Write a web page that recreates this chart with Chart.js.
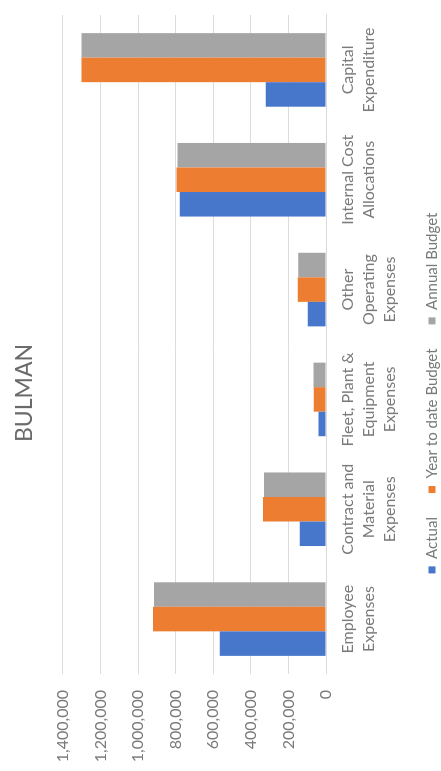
<!DOCTYPE html>
<html>
<head>
<meta charset="utf-8">
<script src="https://cdn.jsdelivr.net/npm/chart.js@4/dist/chart.umd.min.js"></script>
<style>
  html, body { margin: 0; padding: 0; background: #ffffff; overflow: hidden; }
  body { width: 441px; height: 771px; position: relative; }
  /* the chart is laid out landscape and turned a quarter turn counter-clockwise */
  #wrap {
    position: absolute; left: 0; top: 0;
    width: 771px; height: 441px;
    transform-origin: 0 0;
    transform: translateY(771px) rotate(-90deg);
    background: #ffffff;
  }
  canvas { display: block; }
</style>
</head>
<body>
<div id="wrap"><canvas id="chart" width="771" height="441"></canvas></div>
<script>
// Expense categories (multi-line labels)
const categories = [
  ['Employee', 'Expenses'],
  ['Contract and', 'Material', 'Expenses'],
  ['Fleet, Plant &', 'Equipment', 'Expenses'],
  ['Other', 'Operating', 'Expenses'],
  ['Internal Cost', 'Allocations'],
  ['Capital', 'Expenditure']
];

// Series values
const actual       = [565000, 140000, 40000,  97000, 778000,  320000];
const ytdBudget    = [920000, 335000, 65000, 150000, 795000, 1300000];
const annualBudget = [915000, 330000, 67000, 148000, 790000, 1300000];

// Value axis ticks
const valueTicks = [0, 200000, 400000, 600000, 800000, 1000000, 1200000, 1400000];

const seriesNames = ['Actual', 'Year to date Budget', 'Annual Budget'];
const seriesColors = ['#4677CB', '#ED7D31', '#A5A5A5'];

const FONT = 'Lato, "Liberation Sans", Arial, sans-serif';
const TEXT = '#7a7a7a';

new Chart(document.getElementById('chart'), {
  type: 'bar',
  data: {
    labels: categories,
    datasets: [actual, ytdBudget, annualBudget].map((values, i) => ({
      label: seriesNames[i],
      data: values,
      backgroundColor: seriesColors[i],
      borderWidth: 0,
      categoryPercentage: 0.67,
      barPercentage: 1.0
    }))
  },
  options: {
    responsive: false,
    devicePixelRatio: 1,
    animation: false,
    layout: { padding: { left: 0, right: 15, top: 0, bottom: -8.5 } },
    plugins: {
      tooltip: { enabled: false },
      title: {
        display: true,
        text: 'BULMAN',
        color: '#6a6a6a',
        font: { family: FONT, size: 23, weight: 'normal', lineHeight: 1.2 },
        padding: { top: 11.2, bottom: 24 }
      },
      legend: {
        position: 'bottom',
        labels: {
          color: TEXT,
          font: { family: FONT, size: 15 },
          boxWidth: 7,
          boxHeight: 7,
          padding: 24
        }
      }
    },
    scales: {
      x: {
        grid: { display: false, drawTicks: false },
        border: { display: true, color: '#d9d9d9' },
        ticks: {
          color: TEXT,
          font: { family: FONT, size: 16, lineHeight: '21px' },
          padding: 11.5,
          maxRotation: 0,
          autoSkip: false
        },
        afterFit: (scale) => { scale.height = 74.5; }
      },
      y: {
        min: valueTicks[0],
        max: valueTicks[valueTicks.length - 1],
        afterBuildTicks: (scale) => { scale.ticks = valueTicks.map(v => ({ value: v })); },
        grid: { color: '#dcdcdc', lineWidth: 1, drawTicks: false },
        border: { display: false },
        ticks: {
          color: TEXT,
          font: { family: FONT, size: 16 },
          padding: 16,
          callback: (v) => Number(v).toLocaleString('en-US')
        },
        afterFit: (scale) => { scale.width = 97; }
      }
    }
  }
});
</script>
</body>
</html>
